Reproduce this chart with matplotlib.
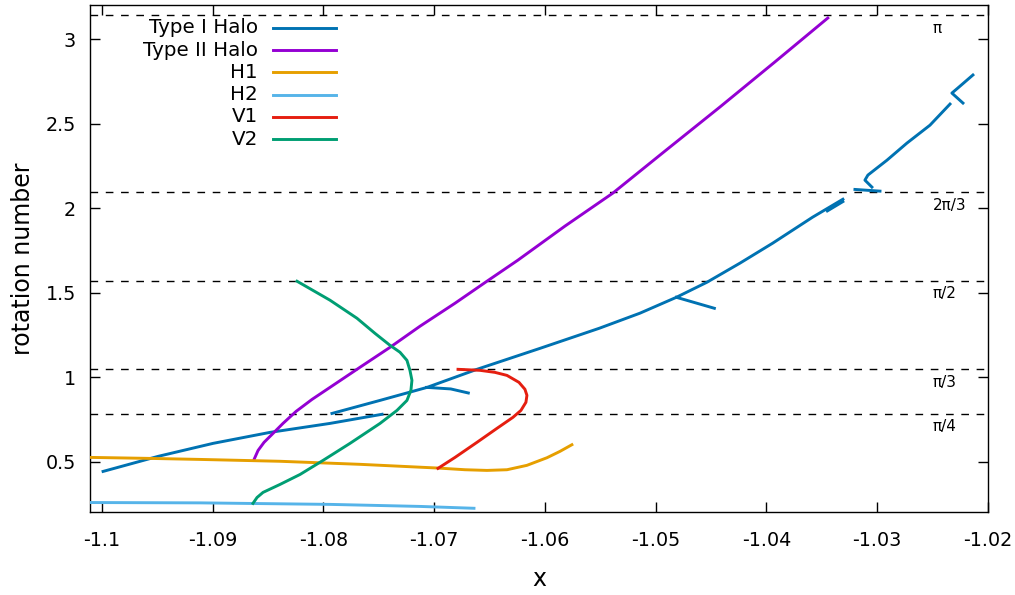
import matplotlib.pyplot as plt
import numpy as np

plt.rcParams['font.family'] = ['DejaVu Sans']
plt.rcParams['axes.unicode_minus'] = False

nan = np.nan

# Type I Halo (several branches, separated by NaN)
halo1_x = [-1.09988, -1.09492, -1.08995, -1.08481, -1.07940, -1.07470, nan,
           -1.07922, -1.07489, -1.07064, -1.06613, -1.06044, -1.05508, -1.05142,
           -1.04813, -1.04537, -1.04239, -1.03944, -1.03583, -1.03310, nan,
           -1.03310, -1.03450, nan,
           -1.07064, -1.06850, -1.06691, nan,
           -1.04813, -1.04470, nan,
           -1.03201, -1.02975, nan,
           -1.03048, -1.03111, -1.03084, -1.02912, -1.02732, -1.02524, -1.02343, nan,
           -1.02226, -1.02326, -1.02272, -1.02136]
halo1_y = [0.444, 0.533, 0.610, 0.675, 0.728, 0.782, nan,
           0.787, 0.864, 0.941, 1.048, 1.172, 1.291, 1.380,
           1.474, 1.563, 1.676, 1.794, 1.948, 2.054, nan,
           2.040, 1.985, nan,
           0.941, 0.932, 0.908, nan,
           1.474, 1.409, nan,
           2.112, 2.102, nan,
           2.126, 2.167, 2.197, 2.285, 2.386, 2.492, 2.617, nan,
           2.623, 2.682, 2.712, 2.789]

# Type II Halo
halo2_x = [-1.08625, -1.08589, -1.08535, -1.08463, -1.08364, -1.08246, -1.08102,
           -1.07940, -1.07669, -1.07398, -1.07127, -1.06811, -1.06523, -1.06245,
           -1.05819, -1.05387, -1.04916, -1.04421, -1.03924, -1.03446]
halo2_y = [0.515, 0.568, 0.616, 0.663, 0.728, 0.799, 0.870,
           0.941, 1.060, 1.178, 1.303, 1.439, 1.569, 1.693,
           1.895, 2.090, 2.339, 2.599, 2.866, 3.126]

# H1
h1_x = [-1.10106, -1.09564, -1.09113, -1.08391, -1.07669, -1.07127, -1.06965,
        -1.06721, -1.06523, -1.06342, -1.06162, -1.05981, -1.05864, -1.05756]
h1_y = [0.527, 0.521, 0.515, 0.504, 0.486, 0.469, 0.464,
        0.454, 0.450, 0.454, 0.480, 0.525, 0.5625, 0.602]

# H2
h2_x = [-1.10106, -1.09111, -1.07938, -1.07127, -1.06640]
h2_y = [0.260, 0.258, 0.249, 0.237, 0.226]

# V1
v1_x = [-1.06965, -1.06811, -1.06613, -1.06432, -1.06288, -1.06216, -1.06171,
        -1.06162, -1.06180, -1.06234, -1.06342, -1.06451, -1.06586, -1.06784]
v1_y = [0.462, 0.527, 0.616, 0.699, 0.764, 0.805, 0.853,
        0.894, 0.930, 0.971, 1.012, 1.030, 1.042, 1.048]

# V2
v2_x = [-1.08635, -1.08598, -1.08544, -1.08391, -1.08210, -1.08003, -1.07759,
        -1.07488, -1.07335, -1.07245, -1.07209, -1.07200, -1.07218, -1.07245,
        -1.07308, -1.07398, -1.07534, -1.07696, -1.07940, -1.08237]
v2_y = [0.255, 0.290, 0.320, 0.367, 0.426, 0.509, 0.610,
        0.728, 0.805, 0.864, 0.924, 0.983, 1.042, 1.101,
        1.149, 1.190, 1.261, 1.350, 1.457, 1.569]

series = [
    ("Type I Halo", halo1_x, halo1_y, "#0072b2"),
    ("Type II Halo", halo2_x, halo2_y, "#9400d3"),
    ("H1", h1_x, h1_y, "#e69f00"),
    ("H2", h2_x, h2_y, "#56b4e9"),
    ("V1", v1_x, v1_y, "#e51e10"),
    ("V2", v2_x, v2_y, "#009e73"),
]

ref_vals = [np.pi, 2 * np.pi / 3, np.pi / 2, np.pi / 3, np.pi / 4]
ref_labels = ["π", "2π/3", "π/2", "π/3", "π/4"]

fig = plt.figure(figsize=(10.15, 5.95), dpi=100)
ax = fig.add_axes([90 / 1015, 83 / 595, 898 / 1015, 507 / 595])

for v, lbl in zip(ref_vals, ref_labels):
    ax.axhline(v, color="black", lw=1, dashes=(5.5, 5.5), zorder=1)
    ax.annotate(lbl, (-1.02497, v), xytext=(0, -4), textcoords="offset points",
                ha="left", va="top", fontsize=11)

for name, xs, ys, c in series:
    ax.plot(xs, ys, color=c, lw=2.1, zorder=3, solid_joinstyle="round")

# gnuplot-like key: right-aligned text, sample line to the right
ky0 = (512 - 27.7) / 507
kdy = 22.3 / 507
for i, (name, xs, ys, c) in enumerate(series):
    yk = ky0 - i * kdy
    ax.text((258 - 90) / 898, yk, name, transform=ax.transAxes, ha="right",
            va="center", fontsize=14.3)
    ax.plot([(273 - 90) / 898, (336 - 90) / 898], [yk, yk], color=c, lw=2.1,
            transform=ax.transAxes)

ax.set_xlim(-1.10106, -1.02)
ax.set_ylim(0.204, 3.203)
ax.set_xticks([-1.1, -1.09, -1.08, -1.07, -1.06, -1.05, -1.04, -1.03, -1.02])
ax.set_xticklabels(["-1.1", "-1.09", "-1.08", "-1.07", "-1.06", "-1.05", "-1.04", "-1.03", "-1.02"])
ax.set_yticks([0.5, 1, 1.5, 2, 2.5, 3])
ax.set_yticklabels(["0.5", "1", "1.5", "2", "2.5", "3"])
ax.tick_params(direction="in", length=7, width=1, top=True, right=True, labelsize=13.8)
ax.tick_params(axis="x", pad=14)
ax.tick_params(axis="y", pad=10)
for s in ax.spines.values():
    s.set_linewidth(1)

ax.set_xlabel("x", fontsize=17, labelpad=12)
ax.set_ylabel("rotation number", fontsize=17, labelpad=8)

plt.savefig("out.png", dpi=100)
